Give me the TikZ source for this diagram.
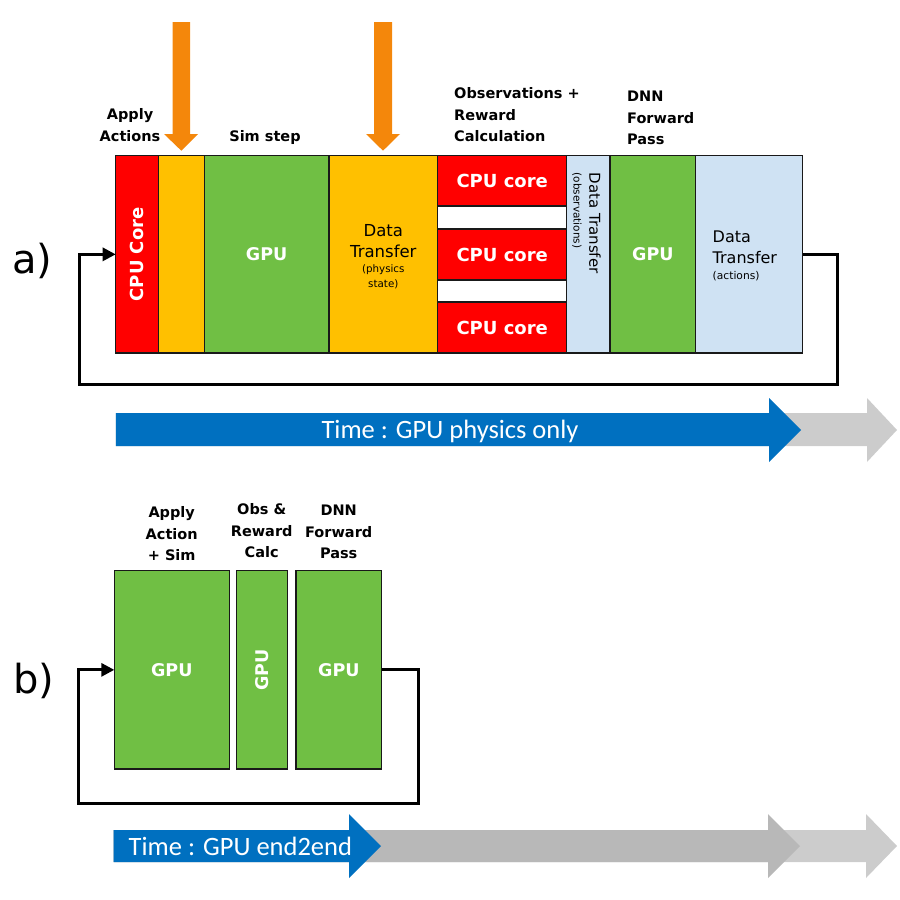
\documentclass[tikz,border=0pt]{standalone}
\usepackage{fontspec}
\setmainfont{DejaVu Sans}
\newfontfamily\timefont{Carlito}
\usetikzlibrary{arrows.meta}
\definecolor{cred}{HTML}{FF0000}
\definecolor{cyel}{HTML}{FFC000}
\definecolor{cgrn}{HTML}{70BF44}
\definecolor{clbl}{HTML}{CFE2F3}
\definecolor{corg}{HTML}{F4870B}
\definecolor{cblu}{HTML}{0070C0}
\definecolor{cgra}{HTML}{B8B8B8}
\definecolor{cgrb}{HTML}{CCCCCC}
\newcommand\mybox[7]{\node[blk, fill=#6, minimum width={(#4-#2)*1pt}, minimum height={(#5-#3)*1pt}] (#1) at ({(#2+#4)/2},{(#3+#5)/2}) {#7};}
\begin{document}
\begin{tikzpicture}[x=1pt,y=-1pt,
  blk/.style={draw=black!90, line width=1.3pt, inner sep=0pt, outer sep=0pt},
  wtxt/.style={text=white, font=\bfseries\fontsize{18}{20}\selectfont},
  gtxt/.style={text=white, font=\bfseries\fontsize{17.5}{20}\selectfont},
  lbl/.style={font=\bfseries\fontsize{14.5}{21.5}\selectfont, inner sep=0pt},
  dtxt/.style={font=\fontsize{16.5}{21.7}\selectfont, inner sep=0pt},
  stxt/.style={font=\fontsize{10.3}{14.7}\selectfont, inner sep=0pt},
  abtxt/.style={font=\fontsize{40}{44}\selectfont, inner sep=0pt},
  ttxt/.style={text=white, font=\timefont\fontsize{26.5}{30}\selectfont, inner sep=0pt},
  loopline/.style={line width=3pt, draw=black, -{Triangle[length=13pt,width=13pt]}},
]
\useasboundingbox (0,0) rectangle (900,900);

% ---------- a) ----------
\fill[corg] (172.7,22) -- (190,22) -- (190,134) -- (198,134) -- (181.3,150.7) -- (164,134) -- (172.7,134) -- cycle;
\fill[corg] (374,22) -- (392,22) -- (392,134) -- (400,134) -- (383,150.7) -- (366,134) -- (374,134) -- cycle;

\mybox{cpuA}{115.7}{155.7}{158.3}{353}{cred}{}
\mybox{yelA}{158.3}{155.7}{204.3}{353}{cyel}{}
\mybox{gpuA}{204.3}{155.7}{329}{353}{cgrn}{}
\mybox{dtA}{329}{155.7}{437.7}{353}{cyel}{}
\mybox{gapA}{437.7}{155.7}{566.7}{353}{white}{}
\mybox{coreA}{437.7}{155.7}{566.7}{206}{cred}{}
\mybox{coreB}{437.7}{229}{566.7}{280}{cred}{}
\mybox{coreC}{437.7}{302}{566.7}{353}{cred}{}
\mybox{dtoA}{566.7}{155.7}{610}{353}{clbl}{}
\mybox{dnnA}{610}{155.7}{695.7}{353}{cgrn}{}
\mybox{dtaA}{695.7}{155.7}{802.7}{353}{clbl}{}

\node[wtxt] (cpuAt) at (cpuA.center) {\rotatebox{90}{CPU Core}};
\node[gtxt] (gpuAt) at (gpuA.center) {GPU};
\node[wtxt] (coreAt) at (coreA.center) {CPU core};
\node[wtxt] (coreBt) at (coreB.center) {CPU core};
\node[wtxt] (coreCt) at (coreC.center) {CPU core};
\node[gtxt] (dnnAt) at (dnnA.center) {GPU};

\node[dtxt, align=center] (dtAt1) at (383.3,241) {Data\\Transfer};
\node[stxt, align=center] (dtAt2) at (383.3,277) {(physics\\state)};
\node[font=\fontsize{15}{18}\selectfont, inner sep=0pt, rotate=-90, anchor=west] (dtoAt1) at (595,172.5) {Data Transfer};
\node[font=\fontsize{10.5}{13}\selectfont, inner sep=0pt, rotate=-90, anchor=west] (dtoAt2) at (577,172.5) {(observations)};
\node[dtxt, font=\fontsize{16}{21.3}\selectfont, align=left, anchor=west] (dtaAt1) at (712.5,247.4) {Data\\Transfer};
\node[stxt, font=\fontsize{10.7}{13}\selectfont, anchor=west] (dtaAt2) at (712.5,276.5) {(actions)};

\node[lbl, align=center] (lApply) at (130,125) {Apply\\Actions};
\node[lbl, anchor=base] (lSim) at (265,141.5) {Sim step};
\node[lbl, align=left, anchor=west] (lObs) at (454,115) {Observations +\\Reward\\Calculation};
\node[lbl, align=left, anchor=west] (lDnn) at (627,118) {DNN\\Forward\\Pass};

\node[abtxt] (la) at (32.5,260.5) {a)};

\coordinate (a1) at (837,384);
\coordinate (a2) at (79,384);
\draw[loopline] (dtaA.east) -| (a1) -- (a2) |- (cpuA.west);

% time arrow a
\fill[cgrb] (115.8,413) -- (867,413) -- (867,398) -- (897,430) -- (867,462) -- (867,446) -- (115.8,446) -- cycle;
\fill[cblu] (115.8,413) -- (769,413) -- (769,398) -- (801,430) -- (769,462) -- (769,446) -- (115.8,446) -- cycle;
\node[ttxt] (ta) at (450,431) {Time : GPU physics only};

% ---------- b) ----------
\mybox{gpuB1}{114.3}{570.7}{229.3}{769}{cgrn}{}
\mybox{gpuB2}{236.7}{570.7}{287.3}{769}{cgrn}{}
\mybox{gpuB3}{296}{570.7}{381.7}{769}{cgrn}{}
\node[gtxt] (gpuB1t) at (gpuB1.center) {GPU};
\node[gtxt] (gpuB2t) at (gpuB2.center) {\rotatebox{90}{GPU}};
\node[gtxt] (gpuB3t) at (gpuB3.center) {GPU};

\node[lbl, align=center] (lApB) at (171.7,534) {Apply\\Action\\+ Sim};
\node[lbl, align=center] (lObB) at (261.7,531) {Obs \&\\Reward\\Calc};
\node[lbl, align=center] (lDnB) at (338.7,532) {DNN\\Forward\\Pass};

\node[abtxt] (lb) at (34,680.5) {b)};

\coordinate (b1) at (418.3,803.3);
\coordinate (b2) at (78.3,803.3);
\draw[loopline] (gpuB3.east) -| (b1) -- (b2) |- (gpuB1.west);

% time arrow b
\fill[cgrb] (113.5,830) -- (866,830) -- (866,814) -- (897,846) -- (866,878) -- (866,862) -- (113.5,862) -- cycle;
\fill[cgra] (113.5,830) -- (768,830) -- (768,814) -- (800,846) -- (768,878) -- (768,862) -- (113.5,862) -- cycle;
\fill[cblu] (113.5,830) -- (349,830) -- (349,814) -- (381,846) -- (349,878) -- (349,862) -- (113.5,862) -- cycle;
\node[ttxt, anchor=west] (tb) at (128.5,846) {Time : GPU end2end};
\end{tikzpicture}
\end{document}
